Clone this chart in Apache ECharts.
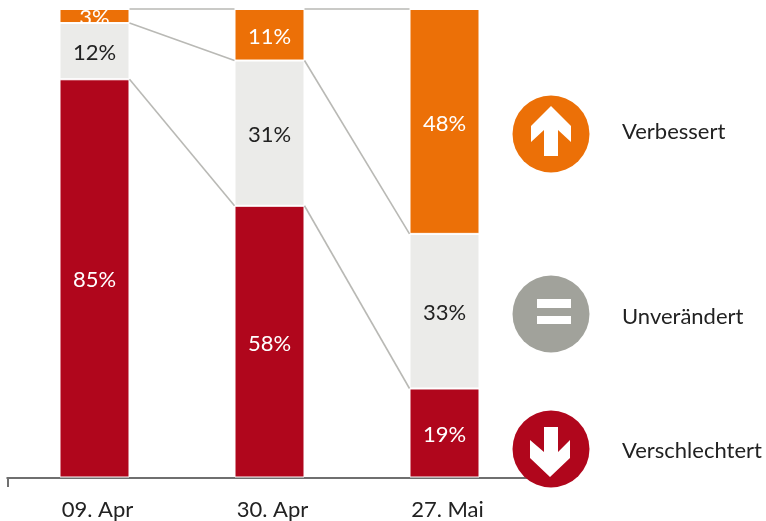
<!DOCTYPE html>
<html>
<head>
<meta charset="utf-8">
<style>
  html, body { margin: 0; padding: 0; background: #fff; }
  #chart { width: 766px; height: 521px; }
</style>
<script src="https://cdn.jsdelivr.net/npm/echarts@6/dist/echarts.min.js"></script>
</head>
<body>
<div id="chart"></div>
<script>
const categories = ['09. Apr', '30. Apr', '27. Mai']
const worse = [85, 58, 19]
const same = [12, 31, 33]
const better = [3, 11, 48]

const ORANGE = '#ec7007'
const GREY = '#ebebe9'
const RED = '#b0061c'
const ICON_GREY = '#a1a29b'
const FONT = 'Lato, "Open Sans", sans-serif'
const BAR_WIDTH = 70

// boundaries between the stacked segments, used by the connector lines
const lowerTop = worse
const middleTop = worse.map((v, i) => v + same[i])
const upperTop = middleTop.map((v, i) => v + better[i])
const connectors = []
for (const tops of [lowerTop, middleTop, upperTop]) {
  for (let i = 0; i < categories.length - 1; i++) {
    connectors.push([i, tops[i], tops[i + 1]])
  }
}

const barSeries = (name, values, color, textColor, hideSmall) => ({
  name,
  type: 'bar',
  stack: 'total',
  barWidth: BAR_WIDTH,
  data: values,
  silent: true,
  itemStyle: { color, borderColor: '#fff', borderWidth: 1 },
  label: {
    show: true,
    position: 'inside',
    offset: [0, 2],
    fontFamily: FONT,
    fontSize: 22,
    color: textColor,
    formatter: (p) => (hideSmall && p.value < 5 ? '' : p.value + '%'),
  },
})

const legendText = (text, y) => ({
  type: 'text',
  x: 622,
  y,
  style: { text, font: '22px ' + FONT, fill: '#222', textVerticalAlign: 'middle' },
  z: 10,
})

const chart = echarts.init(document.getElementById('chart'), null, { renderer: 'canvas' })

chart.setOption({
  animation: false,
  backgroundColor: '#fff',
  grid: { left: 7, top: 9, width: 525, bottom: 41.5 },
  xAxis: {
    type: 'category',
    data: categories,
    axisLine: { lineStyle: { color: '#404040', width: 1.5 } },
    axisTick: { show: false },
    axisLabel: { fontFamily: FONT, fontSize: 22, color: '#222', margin: 21.5, padding: [0, 0, 0, 6] },
  },
  yAxis: { type: 'value', min: 0, max: 100, show: false },
  series: [
    barSeries('Verschlechtert', worse, RED, '#fff'),
    barSeries('Unverändert', same, GREY, '#222'),
    barSeries('Verbessert', better, ORANGE, '#fff', true),
    {
      // thin grey lines joining the segment edges of neighbouring bars
      type: 'custom',
      silent: true,
      z: 3,
      clip: false,
      data: connectors,
      renderItem: (params, api) => {
        const a = api.coord([api.value(0), api.value(1)])
        const b = api.coord([api.value(0) + 1, api.value(2)])
        return {
          type: 'line',
          shape: { x1: a[0] + BAR_WIDTH / 2, y1: a[1], x2: b[0] - BAR_WIDTH / 2, y2: b[1] },
          style: { stroke: '#b9b9b5', lineWidth: 1.6 },
        }
      },
    },
    {
      // the 3% label overflows its thin segment and is cut off by it
      type: 'custom',
      silent: true,
      z: 4,
      clip: false,
      data: better.map((v, i) => [i, middleTop[i], upperTop[i], v]).filter((d) => d[3] < 5),
      renderItem: (params, api) => {
        const bottom = api.coord([api.value(0), api.value(1)])
        const top = api.coord([api.value(0), api.value(2)])
        return {
          type: 'text',
          clipPath: {
            type: 'rect',
            shape: { x: bottom[0] - BAR_WIDTH / 2, y: top[1], width: BAR_WIDTH, height: bottom[1] - top[1] },
          },
          style: {
            x: bottom[0],
            y: (top[1] + bottom[1]) / 2 + 2,
            text: api.value(3) + '%',
            font: '22px ' + FONT,
            fill: '#fff',
            textAlign: 'center',
            textVerticalAlign: 'middle',
          },
        }
      },
    },
  ],
  graphic: [
    // small tick at the left end of the axis
    { type: 'line', shape: { x1: 8, y1: 479, x2: 8, y2: 487 }, style: { stroke: '#404040', lineWidth: 1.5 }, z: 5 },
    { type: 'circle', shape: { cx: 551, cy: 134, r: 38.5 }, style: { fill: ORANGE }, z: 10 },
    {
      type: 'polygon',
      shape: { points: [[551, 106], [571, 126], [571, 142], [558, 130], [558, 156], [544, 156], [544, 130], [531, 142], [531, 126]] },
      style: { fill: '#fff' },
      z: 11,
    },
    { type: 'circle', shape: { cx: 551, cy: 314, r: 38.5 }, style: { fill: ICON_GREY }, z: 10 },
    { type: 'rect', shape: { x: 537, y: 299, width: 34, height: 9 }, style: { fill: '#fff' }, z: 11 },
    { type: 'rect', shape: { x: 537, y: 316, width: 34, height: 8 }, style: { fill: '#fff' }, z: 11 },
    { type: 'circle', shape: { cx: 551, cy: 449, r: 38.5 }, style: { fill: RED }, z: 10 },
    {
      type: 'polygon',
      shape: { points: [[550, 477], [570, 458], [570, 440], [558, 452], [558, 427], [544, 427], [544, 452], [530, 440], [530, 458]] },
      style: { fill: '#fff' },
      z: 11,
    },
    legendText('Verbessert', 132),
    legendText('Unverändert', 317),
    legendText('Verschlechtert', 451),
  ],
})
</script>
</body>
</html>
